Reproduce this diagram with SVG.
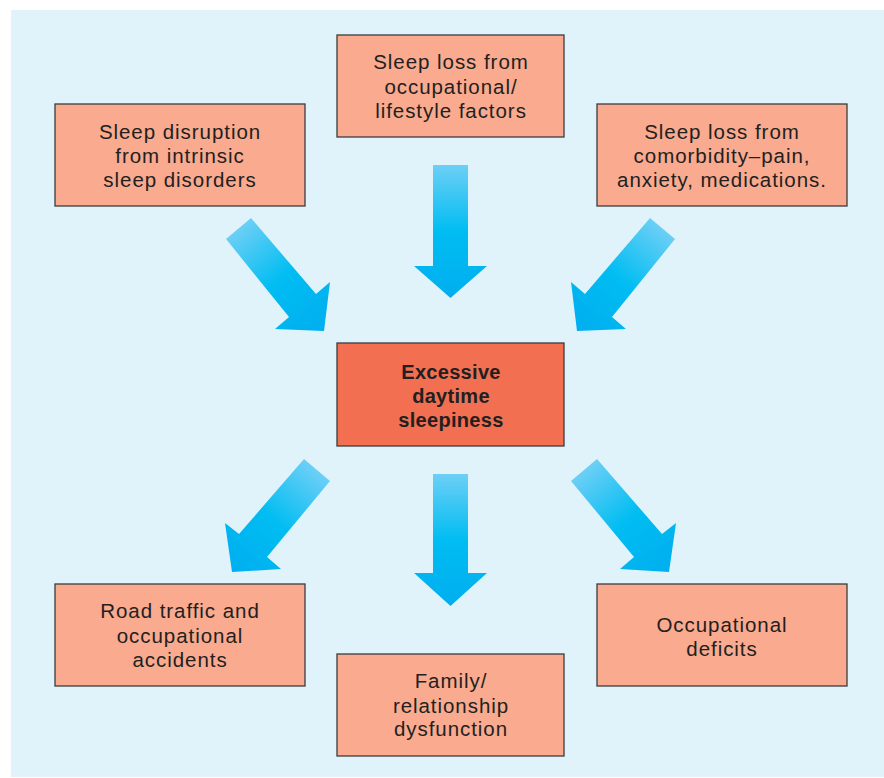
<svg xmlns="http://www.w3.org/2000/svg" width="884" height="778" viewBox="0 0 884 778">
<style>
.bg{fill:#E0F3FB}
.box{fill:#F9AA8F;stroke:#3C3C3C;stroke-width:1.3}
.main{fill:#F26F52;stroke:#3C3C3C;stroke-width:1.3}
.t{font-family:"Liberation Sans",Arial,Helvetica,sans-serif;font-size:20.5px;letter-spacing:0.95px;fill:#231F20;text-anchor:middle}
.tb{font-family:"Liberation Sans",Arial,Helvetica,sans-serif;font-size:20px;font-weight:bold;letter-spacing:0.3px;fill:#231F20;text-anchor:middle}
</style>
<defs>
<linearGradient id="gTop" gradientUnits="userSpaceOnUse" x1="450" y1="165" x2="450" y2="298">
<stop offset="0" stop-color="#6DCFF6"/><stop offset="0.5" stop-color="#00BDF2"/><stop offset="1" stop-color="#00AEEF"/>
</linearGradient>
<linearGradient id="gBot" gradientUnits="userSpaceOnUse" x1="450" y1="474" x2="450" y2="606">
<stop offset="0" stop-color="#6DCFF6"/><stop offset="0.5" stop-color="#00BDF2"/><stop offset="1" stop-color="#00AEEF"/>
</linearGradient>
<linearGradient id="gTL" gradientUnits="userSpaceOnUse" x1="238" y1="228" x2="324" y2="331">
<stop offset="0" stop-color="#6DCFF6"/><stop offset="0.5" stop-color="#00BDF2"/><stop offset="1" stop-color="#00AEEF"/>
</linearGradient>
<linearGradient id="gTR" gradientUnits="userSpaceOnUse" x1="663" y1="228" x2="577" y2="331">
<stop offset="0" stop-color="#6DCFF6"/><stop offset="0.5" stop-color="#00BDF2"/><stop offset="1" stop-color="#00AEEF"/>
</linearGradient>
<linearGradient id="gBL" gradientUnits="userSpaceOnUse" x1="317" y1="470" x2="232" y2="572">
<stop offset="0" stop-color="#6DCFF6"/><stop offset="0.5" stop-color="#00BDF2"/><stop offset="1" stop-color="#00AEEF"/>
</linearGradient>
<linearGradient id="gBR" gradientUnits="userSpaceOnUse" x1="584" y1="470" x2="670" y2="572">
<stop offset="0" stop-color="#6DCFF6"/><stop offset="0.5" stop-color="#00BDF2"/><stop offset="1" stop-color="#00AEEF"/>
</linearGradient>
</defs>
<rect class="bg" x="11" y="10" width="873" height="767"/>

<g id="connectors">
<polygon points="433,165 468,165 468,266 487,266 450.5,298 414,266 433,266" fill="url(#gTop)"/>
<polygon points="226,239 251,218 316,294 330,282 324,331 275,329 289,317" fill="url(#gTL)"/>
<polygon points="675,239 650,218 585,294 571,282 577,331 626,329 612,317" fill="url(#gTR)"/>
<polygon points="433,474 468,474 468,573 487,573 450.5,606 414,573 433,573" fill="url(#gBot)"/>
<polygon points="304,459 330,481 267,557 281,569 232,572 225,523 239,534" fill="url(#gBL)"/>
<polygon points="597,459 571,481 634,557 620,569 669,572 676,523 662,534" fill="url(#gBR)"/>
</g>

<g id="n_occupational_lifestyle">
<rect class="box" x="337" y="35" width="227" height="102"/>
<text class="t" x="451" y="69">Sleep loss from</text>
<text class="t" x="451" y="94">occupational/</text>
<text class="t" x="451" y="118">lifestyle factors</text>
</g>

<g id="n_intrinsic">
<rect class="box" x="55" y="104" width="250" height="102"/>
<text class="t" x="180" y="139">Sleep disruption</text>
<text class="t" x="180" y="163">from intrinsic</text>
<text class="t" x="180" y="187">sleep disorders</text>
</g>

<g id="n_comorbidity">
<rect class="box" x="597" y="104" width="250" height="102"/>
<text class="t" x="722" y="139">Sleep loss from</text>
<text class="t" x="722" y="163">comorbidity–pain,</text>
<text class="t" x="722" y="187">anxiety, medications.</text>
</g>

<g id="n_eds">
<rect class="main" x="337" y="343" width="227" height="103"/>
<text class="tb" x="451" y="379">Excessive</text>
<text class="tb" x="451" y="403">daytime</text>
<text class="tb" x="451" y="427">sleepiness</text>
</g>

<g id="n_accidents">
<rect class="box" x="55" y="584" width="250" height="102"/>
<text class="t" x="180" y="618">Road traffic and</text>
<text class="t" x="180" y="643">occupational</text>
<text class="t" x="180" y="667">accidents</text>
</g>

<g id="n_family">
<rect class="box" x="337" y="654" width="227" height="102"/>
<text class="t" x="451" y="688">Family/</text>
<text class="t" x="451" y="713">relationship</text>
<text class="t" x="451" y="736">dysfunction</text>
</g>

<g id="n_deficits">
<rect class="box" x="597" y="584" width="250" height="102"/>
<text class="t" x="722" y="632">Occupational</text>
<text class="t" x="722" y="656">deficits</text>
</g>
</svg>
